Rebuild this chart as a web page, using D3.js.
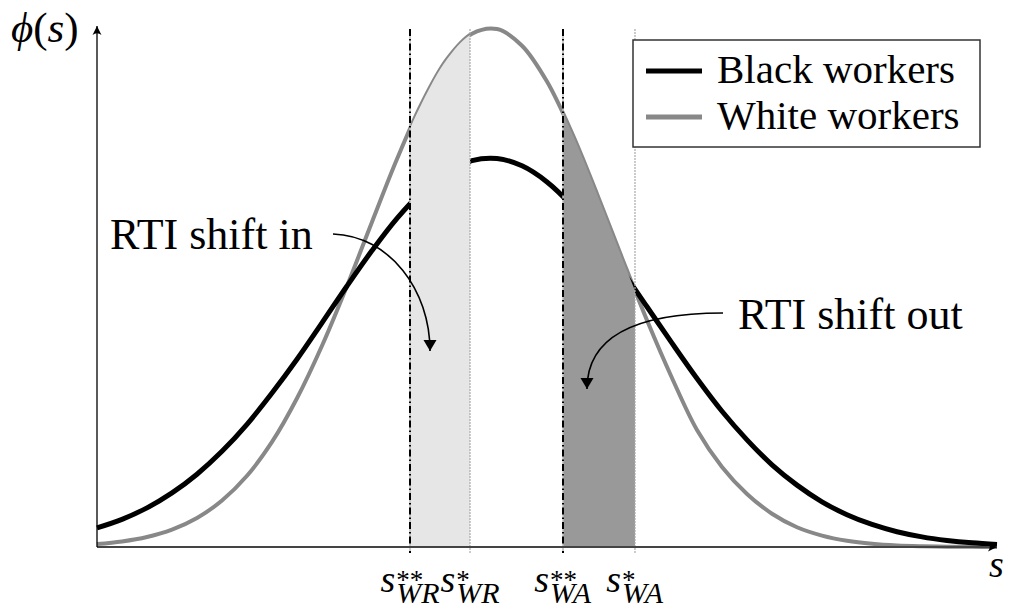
<!DOCTYPE html>
<html>
<head>
<meta charset="utf-8">
<script src="https://cdn.jsdelivr.net/npm/d3@7"></script>
<style>
body { margin: 0; background: #fff; }
svg text { font-family: "Liberation Serif", "Tinos", "Times New Roman", "DejaVu Serif", "Noto Serif", serif; fill: #000; }
</style>
</head>
<body>
<svg id="chart" width="1010" height="611"></svg>
<script>
// skill grid and densities (arbitrary units, white peak ~100)
var sGrid = [0,0.25,0.5,0.75,1,1.25,1.5,1.75,2,2.25,2.5,2.75,3,3.25,3.5,3.75,4,4.25,4.5,
             4.75,5,5.25,5.5,5.75,6,6.25,6.5,6.75,7,7.25,7.5,7.75,8,8.25,8.5,8.75,9];
var whiteDens = [0.56,1.06,1.92,3.34,5.58,8.94,13.7,20.2,28.6,38.7,50.2,62.5,74.6,85.4,93.8,98.7,99.6,96.4,89.5,
                 79.6,67.9,55.6,43.6,32.5,22.5,15.4,10.2,6.4,3.8,2.2,1.2,0.62,0.3,0.15,0.07,0.03,0.01];
var blackDens = [3.67,5.31,7.52,10.4,14.0,18.4,23.6,29.6,36.1,43.1,50.2,57.0,63.2,68.3,72.1,74.3,74.7,73.3,70.2,
                 65.6,59.8,53.2,46.2,39.2,32.4,26.1,20.6,15.8,11.9,8.69,6.21,4.33,2.94,1.95,1.27,0.80,0.49];

// thresholds on the s axis
var cutValues = [3.13, 3.73, 4.66, 5.38];
var cutStars  = ["**", "*", "**", "*"];
var cutSubs   = ["WR", "WR", "WA", "WA"];

var seriesNames = ["Black workers", "White workers"];

// annotation arrows: text position and bezier points, in (s, phi) units
var notes = [
    {label: "RTI shift in",  tx: 0.13, ty: 57.3,
     pts: [[2.36, 60.2], [2.93, 59.8], [3.33, 49.4], [3.33, 37.7]]},
    {label: "RTI shift out", tx: 6.41, ty: 41.9,
     pts: [[6.26, 45.0], [5.43, 45.0], [4.90, 40.8], [4.90, 30.4]]}
];

var svg = d3.select("#chart");

var xScale = d3.scaleLinear().domain([0, 9]).range([97, 997]);
var yScale = d3.scaleLinear().domain([0, 100]).range([547, 27]);

var whiteData = sGrid.map(function(s, i){ return {s: s, v: whiteDens[i]}; });
var blackData = sGrid.map(function(s, i){ return {s: s, v: blackDens[i]}; });

var defs = svg.append("defs");

defs.append("marker")
    .attr("id", "axisHead")
    .attr("viewBox", "-10 -6 12 12")
    .attr("refX", 0).attr("refY", 0)
    .attr("markerWidth", 12).attr("markerHeight", 12)
    .attr("markerUnits", "userSpaceOnUse")
    .attr("orient", "auto")
  .append("path")
    .attr("d", "M0,0 L-9,-4.5 Q-5.5,0 -9,4.5 Z")
    .attr("fill", "#000");

defs.append("marker")
    .attr("id", "noteHead")
    .attr("viewBox", "-13 -8 15 16")
    .attr("refX", 0).attr("refY", 0)
    .attr("markerWidth", 15).attr("markerHeight", 16)
    .attr("markerUnits", "userSpaceOnUse")
    .attr("orient", "auto")
  .append("path")
    .attr("d", "M0,0 L-11,-6.5 L-11,6.5 Z")
    .attr("fill", "#000");

// shaded bands: [from cut, to cut, colour]
var bands = [[0, 1, "#e6e6e6"], [2, 3, "#999999"]];
bands.forEach(function(b, i){
    defs.append("clipPath")
        .attr("id", "band" + i)
      .append("rect")
        .attr("x", xScale(cutValues[b[0]]))
        .attr("y", 0)
        .attr("width", xScale(cutValues[b[1]]) - xScale(cutValues[b[0]]))
        .attr("height", yScale(0));
});

var curve = d3.curveCatmullRom.alpha(0.5);

var line = d3.line()
    .x(function(d){ return xScale(d.s); })
    .y(function(d){ return yScale(d.v); })
    .curve(curve);

var area = d3.area()
    .x(function(d){ return xScale(d.s); })
    .y0(yScale(0))
    .y1(function(d){ return yScale(d.v); })
    .curve(curve);

// curves
svg.append("path")
    .datum(whiteData)
    .attr("d", line)
    .attr("fill", "none")
    .attr("stroke", "#888888")
    .attr("stroke-width", 4);

svg.append("path")
    .datum(blackData)
    .attr("d", line)
    .attr("fill", "none")
    .attr("stroke", "#000")
    .attr("stroke-width", 5);

// shaded regions under the white curve
bands.forEach(function(b, i){
    svg.append("path")
        .datum(whiteData)
        .attr("d", area)
        .attr("fill", b[2])
        .attr("clip-path", "url(#band" + i + ")");
});

// vertical threshold lines
cutValues.forEach(function(c, i){
    var xp = xScale(c);
    if(cutStars[i] == "**"){
        svg.append("line")
            .attr("x1", xp).attr("x2", xp)
            .attr("y1", yScale(99.6)).attr("y2", yScale(0) + 6)
            .attr("stroke", "#bbbbbb").attr("stroke-width", 1.5);
        svg.append("line")
            .attr("x1", xp).attr("x2", xp)
            .attr("y1", yScale(99.6)).attr("y2", yScale(0) + 6)
            .attr("stroke", "#000").attr("stroke-width", 2)
            .attr("stroke-dasharray", "7,3,1.5,3");
    } else {
        svg.append("line")
            .attr("x1", xp).attr("x2", xp)
            .attr("y1", yScale(99.6)).attr("y2", yScale(0) + 6)
            .attr("stroke", "#aaaaaa").attr("stroke-width", 1.2)
            .attr("stroke-dasharray", "2,1");
    }
});

// axes
svg.append("line")
    .attr("x1", xScale(0)).attr("x2", xScale(9))
    .attr("y1", yScale(0)).attr("y2", yScale(0))
    .attr("stroke", "#444").attr("stroke-width", 2)
    .attr("marker-end", "url(#axisHead)");

svg.append("line")
    .attr("x1", xScale(0)).attr("x2", xScale(0))
    .attr("y1", yScale(0)).attr("y2", yScale(100.2))
    .attr("stroke", "#000").attr("stroke-width", 1.3)
    .attr("marker-end", "url(#axisHead)");

// axis titles
var yTitle = svg.append("text")
    .attr("x", 11).attr("y", 42)
    .attr("font-size", 43);
yTitle.append("tspan").attr("font-style", "italic").text("\u03d5");
yTitle.append("tspan").text("(");
yTitle.append("tspan").attr("font-style", "italic").text("s");
yTitle.append("tspan").text(")");

svg.append("text")
    .attr("x", 989).attr("y", 577)
    .attr("font-size", 38)
    .attr("font-style", "italic")
    .text("s");

// threshold labels under the axis
cutValues.forEach(function(c, i){
    var g = svg.append("g");
    var sMain = g.append("text")
        .attr("font-size", 38)
        .attr("font-style", "italic")
        .text("s");
    var sw = sMain.node().getComputedTextLength();
    g.append("text")
        .attr("x", sw + 1).attr("y", -3)
        .attr("font-size", 27)
        .text(cutStars[i]);
    g.append("text")
        .attr("x", sw + 1).attr("y", 11)
        .attr("font-size", 30)
        .attr("font-style", "italic")
        .text(cutSubs[i]);
    var bb = g.node().getBBox();
    g.attr("transform", `translate(${xScale(c) - bb.width / 2}, 592)`);
});

// annotations
notes.forEach(function(n){
    svg.append("text")
        .attr("x", xScale(n.tx)).attr("y", yScale(n.ty))
        .attr("font-size", 44)
        .text(n.label);
    var p = d3.path();
    var q = n.pts.map(function(d){ return [xScale(d[0]), yScale(d[1])]; });
    p.moveTo(q[0][0], q[0][1]);
    p.bezierCurveTo(q[1][0], q[1][1], q[2][0], q[2][1], q[3][0], q[3][1]);
    svg.append("path")
        .attr("d", p.toString())
        .attr("fill", "none")
        .attr("stroke", "#000")
        .attr("stroke-width", 1.6)
        .attr("marker-end", "url(#noteHead)");
});

// legend
var legend = svg.append("g").attr("transform", "translate(633,40)");
legend.append("rect")
    .attr("width", 347).attr("height", 107)
    .attr("fill", "#fff")
    .attr("stroke", "#333").attr("stroke-width", 1.5);

var legendColors = ["#000", "#888888"];
seriesNames.forEach(function(name, i){
    var yy = 31 + i * 46;
    legend.append("line")
        .attr("x1", 13).attr("x2", 69)
        .attr("y1", yy).attr("y2", yy)
        .attr("stroke", legendColors[i])
        .attr("stroke-width", 5);
    legend.append("text")
        .attr("x", 84).attr("y", yy + 12)
        .attr("font-size", 41)
        .text(name);
});
</script>
</body>
</html>
